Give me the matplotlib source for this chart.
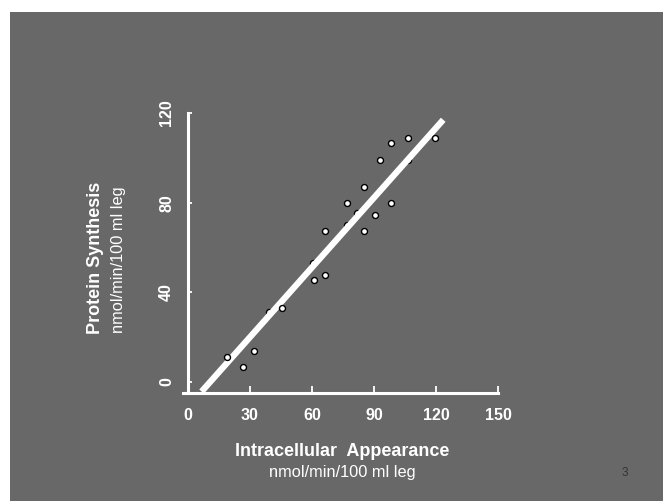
#!/usr/bin/env python3
"""
Protein synthesis vs intracellular appearance slide chart.
"""

import matplotlib
matplotlib.use("Agg")
import matplotlib.pyplot as plt
from matplotlib.patches import Rectangle

# Data
appearance = [18.7, 26.8, 32.1, 45.3, 61.1, 66.4, 66.4, 77.1, 85.0, 85.0,
              90.4, 92.9, 98.2, 98.2, 106.3, 119.5]
synthesis = [11.2, 6.5, 13.9, 33.2, 45.3, 47.9, 67.4, 79.7, 86.8, 67.4,
             74.7, 99.1, 106.4, 79.7, 108.9, 108.9]

# points mostly hidden under the regression line
hidden_x = [39.3, 60.6, 76.8, 81.6, 106.6]
hidden_y = [31.2, 53.0, 70.2, 75.2, 99.0]

# regression line
fit_slope = 1.037
fit_intercept = -11.1
fit_range = [6.6, 123.5]

x_ticks = [0, 30, 60, 90, 120, 150]
y_ticks = [0, 40, 80, 120]

BG = '#686868'
FONT = ['Liberation Sans', 'DejaVu Sans']


def make_chart():
    plt.rcParams['font.family'] = FONT

    fig = plt.figure(figsize=(6.63, 5.01), dpi=100)
    fig.patch.set_facecolor('white')
    # gray slide background with thin white margin top/left
    fig.patches.append(Rectangle((10 / 663, 0), 1, 1 - 12 / 501,
                                 transform=fig.transFigure, facecolor=BG,
                                 edgecolor='none', zorder=-10))

    ax = fig.add_axes([183 / 663, 1 - 393 / 501, 315 / 663, 280 / 501])
    ax.set_zorder(5)
    ax.set_facecolor('none')
    ax.set_xlim(-2.4, 150)
    ax.set_ylim(-4.9, 120)

    # hidden points, then the fit line, then visible points
    ax.plot(hidden_x, hidden_y, 'o', ms=4.3, mfc='white', mec='black',
            mew=1.0, zorder=2)
    fx = fit_range
    fy = [fit_slope * v + fit_intercept for v in fx]
    ax.plot(fx, fy, color='white', lw=4.5, solid_capstyle='butt',
            clip_on=False, zorder=3)
    ax.plot(appearance, synthesis, 'o', ms=4.3, mfc='white', mec='black',
            mew=1.0, zorder=4)

    for side in ['top', 'right']:
        ax.spines[side].set_visible(False)
    for side in ['left', 'bottom']:
        ax.spines[side].set_color('white')
        ax.spines[side].set_linewidth(2.2)
        ax.spines[side].set_capstyle('projecting')
    ax.spines['left'].set_position(('data', 0))
    ax.spines['left'].set_bounds(-4.9, 120)

    ax.set_xticks(x_ticks)
    ax.set_yticks(y_ticks)
    ax.tick_params(axis='x', direction='in', length=5, width=1.3,
                   color='white', pad=11)
    ax.tick_params(axis='y', direction='in', length=3, width=1.3,
                   color='white', pad=10)
    for lab in ax.get_xticklabels():
        lab.set_color('white')
        lab.set_fontweight('bold')
        lab.set_fontsize(11.5)
    for lab in ax.get_yticklabels():
        lab.set_color('white')
        lab.set_fontweight('bold')
        lab.set_fontsize(11.5)
        lab.set_rotation(90)
        lab.set_va('center')

    # axis titles as figure text
    fig.text(342 / 663, 1 - 452 / 501, 'Intracellular  Appearance',
             ha='center', va='center', color='white', fontsize=13,
             fontweight='bold')
    fig.text(342 / 663, 1 - 472 / 501, 'nmol/min/100 ml leg',
             ha='center', va='center', color='white', fontsize=11.8)
    fig.text(95 / 663, 1 - 258 / 501, 'Protein Synthesis', rotation=90,
             ha='center', va='center', color='white', fontsize=13,
             fontweight='bold')
    fig.text(118 / 663, 1 - 260 / 501, 'nmol/min/100 ml leg', rotation=90,
             ha='center', va='center', color='white', fontsize=11.8)
    fig.text(625 / 663, 1 - 473 / 501, '3', ha='center', va='center',
             color='#333333', fontsize=8.5)

    fig.savefig('out.png', dpi=100, facecolor=fig.get_facecolor())
    print("saved out.png")


if __name__ == "__main__":
    make_chart()
